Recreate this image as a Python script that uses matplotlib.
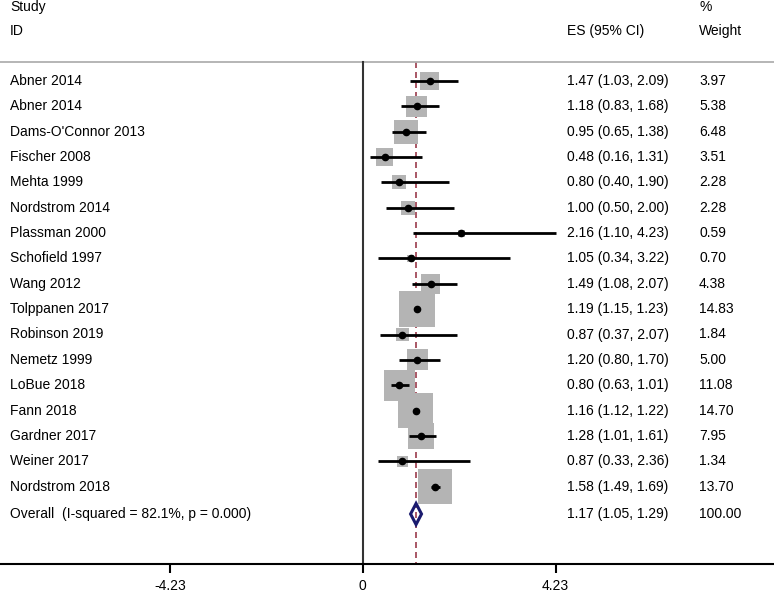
import matplotlib
matplotlib.use("Agg")
import matplotlib.pyplot as plt
from matplotlib.patches import Rectangle, Polygon
from matplotlib.transforms import blended_transform_factory
import numpy as np

plt.rcParams['font.family'] = ['Liberation Sans', 'DejaVu Sans']

studies = ["Abner 2014", "Abner 2014", "Dams-O'Connor 2013", "Fischer 2008",
           "Mehta 1999", "Nordstrom 2014", "Plassman 2000", "Schofield 1997",
           "Wang 2012", "Tolppanen 2017", "Robinson 2019", "Nemetz 1999",
           "LoBue 2018", "Fann 2018", "Gardner 2017", "Weiner 2017",
           "Nordstrom 2018"]
es = [1.47, 1.18, 0.95, 0.48, 0.80, 1.00, 2.16, 1.05, 1.49, 1.19, 0.87,
      1.20, 0.80, 1.16, 1.28, 0.87, 1.58]
lo = [1.03, 0.83, 0.65, 0.16, 0.40, 0.50, 1.10, 0.34, 1.08, 1.15, 0.37,
      0.80, 0.63, 1.12, 1.01, 0.33, 1.49]
hi = [2.09, 1.68, 1.38, 1.31, 1.90, 2.00, 4.23, 3.22, 2.07, 1.23, 2.07,
      1.70, 1.01, 1.22, 1.61, 2.36, 1.69]
weights = [3.97, 5.38, 6.48, 3.51, 2.28, 2.28, 0.59, 0.70, 4.38, 14.83,
           1.84, 5.00, 11.08, 14.70, 7.95, 1.34, 13.70]
overall_label = "Overall  (I-squared = 82.1%, p = 0.000)"
overall_es, overall_lo, overall_hi = 1.17, 1.05, 1.29
overall_weight = "100.00"
xticks = [-4.23, 0, 4.23]

W, H = 774, 592
fig = plt.figure(figsize=(W / 100, H / 100), dpi=100)
ax_bottom_px = 564
ax = fig.add_axes([0, (H - ax_bottom_px) / H, 1, ax_bottom_px / H])

px_per_unit = 45.6
x0_px = 362.7
ax.set_xlim(-x0_px / px_per_unit, (W - x0_px) / px_per_unit)

row0_px, row_h = 81, 25.35
ymin = (ax_bottom_px - row0_px) / row_h
ymax = -row0_px / row_h
ax.set_ylim(ymin, ymax)

def ypx(p):
    return (p - row0_px) / row_h

trans = blended_transform_factory(ax.transAxes, ax.transData)
fs = 10

# headers
ax.text(10 / W, ypx(7), "Study", transform=trans, fontsize=fs, va='center', ha='left')
ax.text(10 / W, ypx(31), "ID", transform=trans, fontsize=fs, va='center', ha='left')
ax.text(567 / W, ypx(31), "ES (95% CI)", transform=trans, fontsize=fs, va='center', ha='left')
ax.text(699 / W, ypx(7), "%", transform=trans, fontsize=fs, va='center', ha='left')
ax.text(699 / W, ypx(31), "Weight", transform=trans, fontsize=fs, va='center', ha='left')

line_y = ypx(62)
ax.plot([0, 1], [line_y, line_y], transform=trans, color='#b0b0b0', lw=1.3, clip_on=False)

# null line and overall line
ax.plot([0, 0], [line_y, ymin], color='#333333', lw=1.5, zorder=2)
ax.plot([overall_es, overall_es], [line_y, ymin], color='#9b3b4b', lw=1.2,
        ls=(0, (3.6, 2.4)), zorder=1)

box_scale = 9.3 / px_per_unit  # data units per sqrt(weight) in x
for i, (name, e, l, h, w) in enumerate(zip(studies, es, lo, hi, weights)):
    side_x = box_scale * np.sqrt(w)
    side_y = 9.3 * np.sqrt(w) / row_h
    ax.add_patch(Rectangle((e - side_x / 2, i - side_y / 2), side_x, side_y,
                           facecolor='#b4b4b4', edgecolor='none', zorder=3))
    ax.plot([l, h], [i, i], color='black', lw=2, zorder=4, solid_capstyle='butt')
    ax.plot([e], [i], marker='o', color='black', ms=4.5, zorder=5)
    ax.text(10 / W, i, name, transform=trans, fontsize=fs, va='center', ha='left')
    ax.text(567 / W, i, f"{e:.2f} ({l:.2f}, {h:.2f})", transform=trans,
            fontsize=fs, va='center', ha='left')
    ax.text(699 / W, i, f"{w:.2f}", transform=trans, fontsize=fs, va='center', ha='left')

oy = ypx(514)
dh = 10.5 / row_h
ax.add_patch(Polygon([[overall_lo, oy], [overall_es, oy - dh], [overall_hi, oy],
                      [overall_es, oy + dh]], closed=True, facecolor='none',
                     edgecolor='#1a1a6e', lw=2.2, zorder=5))
ax.text(10 / W, oy, overall_label, transform=trans, fontsize=fs, va='center', ha='left')
ax.text(567 / W, oy, f"{overall_es:.2f} ({overall_lo:.2f}, {overall_hi:.2f})",
        transform=trans, fontsize=fs, va='center', ha='left')
ax.text(699 / W, oy, overall_weight, transform=trans, fontsize=fs, va='center', ha='left')

for s in ['top', 'left', 'right']:
    ax.spines[s].set_visible(False)
ax.spines['bottom'].set_linewidth(1.5)
ax.spines['bottom'].set_color('black')
ax.set_yticks([])
ax.set_xticks(xticks)
ax.set_xticklabels([f"{t:g}" if t != 0 else "0" for t in xticks])
ax.tick_params(axis='x', length=6.5, width=1.5, labelsize=fs, pad=4)

fig.savefig("out.png", dpi=100)
